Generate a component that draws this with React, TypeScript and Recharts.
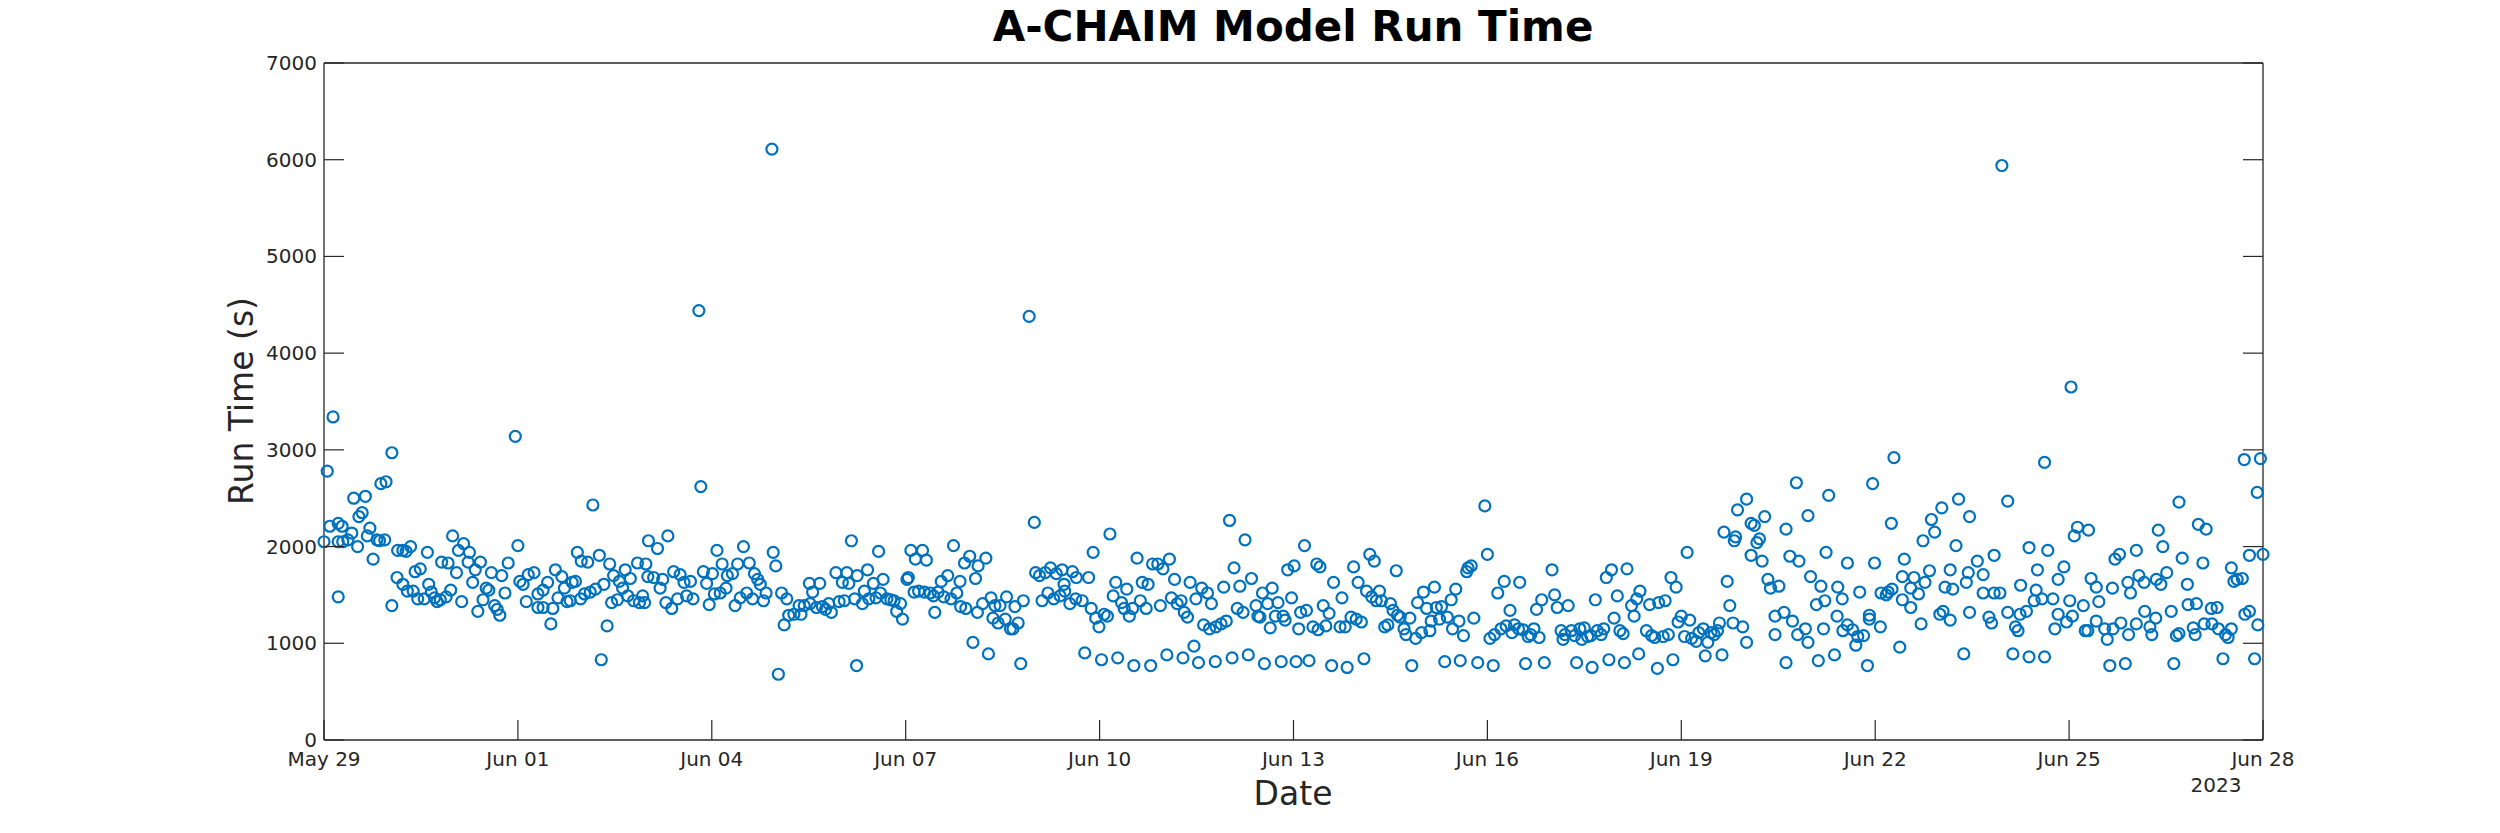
import { ScatterChart, Scatter, XAxis, YAxis } from 'recharts';

// Run times, as [days since May 29 00:00, seconds].
const runsMay29ToJun03: [number, number][] = [
  [0, 2050], [0.05, 2780], [0.14, 3340], [0.09, 2210], [0.22, 2240], [0.28, 2210], [0.22, 2050], [0.29, 2050],
  [0.37, 2070], [0.43, 2140], [0.52, 2000], [0.22, 1480], [0.46, 2500], [0.54, 2310], [0.59, 2350], [0.64, 2520],
  [0.71, 2190], [0.67, 2110], [0.76, 1870], [0.82, 2070], [0.86, 2060], [0.94, 2070], [0.88, 2650], [0.96, 2670],
  [1.05, 2970], [1.05, 1390], [1.14, 1960], [1.13, 1680], [1.22, 1960], [1.27, 1950], [1.34, 2000], [1.22, 1610],
  [1.29, 1540], [1.38, 1540], [1.41, 1740], [1.49, 1770], [1.45, 1460], [1.55, 1460], [1.6, 1940], [1.62, 1610],
  [1.66, 1530], [1.71, 1470], [1.75, 1430], [1.8, 1450], [1.89, 1480], [1.96, 1550], [1.82, 1840], [1.92, 1830],
  [1.99, 2110], [2.05, 1730], [2.08, 1960], [2.16, 2030], [2.25, 1940], [2.23, 1840], [2.34, 1760], [2.42, 1840],
  [2.3, 1630], [2.13, 1430], [2.46, 1450], [2.38, 1330], [2.51, 1570], [2.55, 1550], [2.59, 1730], [2.64, 1390],
  [2.68, 1350], [2.72, 1290], [2.75, 1700], [2.8, 1520], [2.85, 1830], [2.96, 3140], [3.0, 2010], [3.03, 1640],
  [3.08, 1610], [3.13, 1430], [3.16, 1710], [3.25, 1730], [3.31, 1510], [3.31, 1370], [3.39, 1370], [3.39, 1550],
  [3.46, 1630], [3.51, 1200], [3.54, 1360], [3.58, 1760], [3.62, 1470], [3.68, 1690], [3.72, 1570], [3.76, 1430],
  [3.81, 1440], [3.84, 1630], [3.89, 1640], [3.92, 1940], [3.98, 1850], [3.97, 1460], [4.03, 1510], [4.08, 1840],
  [4.12, 1530], [4.2, 1560], [4.16, 2430], [4.26, 1910], [4.33, 1610], [4.38, 1180], [4.29, 830], [4.42, 1820],
  [4.45, 1420], [4.48, 1700], [4.54, 1450], [4.57, 1640], [4.62, 1570], [4.66, 1760], [4.74, 1670], [4.7, 1490],
  [4.79, 1440], [4.85, 1830], [4.88, 1420], [4.93, 1490], [4.98, 1820], [5.02, 2060], [5.01, 1690], [4.96, 1420],
];

const runsJun03ToJun08: [number, number][] = [
  [5.16, 1980], [5.32, 2110], [5.1, 1680], [5.2, 1570], [5.24, 1660], [5.29, 1420], [5.38, 1360], [5.41, 1740],
  [5.51, 1710], [5.47, 1460], [5.57, 1630], [5.61, 1490], [5.67, 1640], [5.71, 1460], [5.83, 2620], [5.8, 4440],
  [5.87, 1740], [5.92, 1620], [5.96, 1400], [6.01, 1720], [6.04, 1510], [6.08, 1960], [6.13, 1520], [6.16, 1820],
  [6.22, 1570], [6.24, 1700], [6.32, 1720], [6.36, 1390], [6.4, 1820], [6.49, 2000], [6.44, 1470], [6.54, 1520],
  [6.58, 1830], [6.63, 1460], [6.66, 1720], [6.71, 1660], [6.75, 1610], [6.8, 1440], [6.84, 1520], [6.93, 6110],
  [6.95, 1940], [6.99, 1800], [7.08, 1520], [7.16, 1460], [7.12, 1190], [7.03, 680], [7.19, 1290], [7.27, 1300],
  [7.35, 1390], [7.38, 1300], [7.43, 1390], [7.51, 1620], [7.56, 1530], [7.52, 1410], [7.62, 1370], [7.67, 1620],
  [7.71, 1380], [7.76, 1350], [7.81, 1410], [7.85, 1320], [7.92, 1730], [7.97, 1430], [8.02, 1630], [8.09, 1730],
  [8.05, 1440], [8.12, 1620], [8.16, 2060], [8.25, 1700], [8.21, 1460], [8.24, 770], [8.33, 1410], [8.36, 1540],
  [8.41, 1760], [8.43, 1460], [8.5, 1620], [8.54, 1470], [8.58, 1950], [8.65, 1660], [8.61, 1520], [8.71, 1460],
  [8.77, 1450], [8.82, 1440], [8.86, 1330], [8.92, 1410], [8.95, 1250], [9.02, 1660], [9.04, 1680], [9.08, 1960],
  [9.13, 1530], [9.15, 1870], [9.2, 1540], [9.26, 1960], [9.32, 1860], [9.29, 1530], [9.38, 1520], [9.43, 1490],
  [9.45, 1320], [9.5, 1530], [9.55, 1640], [9.59, 1480], [9.65, 1700], [9.7, 1460], [9.74, 2010], [9.79, 1520],
  [9.84, 1640], [9.85, 1380], [9.93, 1360], [9.91, 1830], [9.99, 1900], [10.08, 1670], [10.11, 1320], [10.04, 1010],
  [10.12, 1800],
];

const runsJun08ToJun13: [number, number][] = [
  [10.24, 1880], [10.19, 1410], [10.32, 1470], [10.38, 1390], [10.46, 1390], [10.56, 1480], [10.69, 1380], [10.82, 1440],
  [10.35, 1260], [10.43, 1210], [10.54, 1250], [10.62, 1150], [10.66, 1150], [10.74, 1210], [10.28, 890], [10.78, 790],
  [10.91, 4380], [10.99, 2250], [11.01, 1730], [11.07, 1700], [11.16, 1730], [11.24, 1780], [11.33, 1720], [11.42, 1760],
  [11.45, 1610], [11.58, 1740], [11.64, 1680], [11.83, 1680], [11.11, 1440], [11.2, 1520], [11.29, 1460], [11.39, 1490],
  [11.46, 1540], [11.54, 1410], [11.63, 1460], [11.73, 1440], [11.77, 900], [11.9, 1940], [11.87, 1360], [11.94, 1260],
  [11.99, 1170], [12.07, 1300], [12.12, 1280], [12.03, 830], [12.16, 2130], [12.21, 1490], [12.25, 1630], [12.34, 1420],
  [12.38, 1360], [12.42, 1560], [12.46, 1280], [12.51, 1360], [12.28, 850], [12.58, 1880], [12.63, 1440], [12.66, 1630],
  [12.72, 1360], [12.75, 1610], [12.53, 770], [12.79, 770], [12.82, 1820], [12.9, 1820], [12.94, 1390], [12.98, 1770],
  [13.08, 1870], [13.04, 880], [13.11, 1470], [13.16, 1660], [13.2, 1410], [13.26, 1440], [13.31, 1320], [13.36, 1270],
  [13.29, 850], [13.4, 1630], [13.46, 970], [13.49, 1460], [13.58, 1570], [13.67, 1520], [13.73, 1410], [13.53, 800],
  [13.61, 1190], [13.7, 1150], [13.8, 1170], [13.88, 1200], [13.96, 1230], [13.79, 810], [13.92, 1580], [14.01, 2270],
  [14.05, 850], [14.08, 1780], [14.17, 1590], [14.13, 1360], [14.22, 1320], [14.25, 2070], [14.35, 1670], [14.3, 880],
  [14.42, 1390], [14.45, 1280], [14.48, 1270], [14.52, 1520], [14.55, 790], [14.6, 1410], [14.64, 1160], [14.67, 1570],
  [14.72, 1280], [14.76, 1420], [14.84, 1280], [14.87, 1240], [14.81, 810], [14.91, 1760], [15.01, 1800], [14.97, 1470],
  [15.04, 810], [15.08, 1150], [15.11, 1320], [15.17, 2010], [15.2, 1340], [15.24, 820],
];

const runsJun13ToJun18: [number, number][] = [
  [15.3, 1170], [15.38, 1140], [15.36, 1820], [15.41, 1790], [15.46, 1390], [15.5, 1180], [15.59, 770], [15.55, 1310],
  [15.62, 1630], [15.72, 1170], [15.75, 1470], [15.8, 1170], [15.83, 750], [15.89, 1270], [15.93, 1790], [15.97, 1250],
  [16.0, 1630], [16.05, 1220], [16.09, 840], [16.13, 1540], [16.18, 1920], [16.25, 1850], [16.21, 1480], [16.28, 1440],
  [16.33, 1540], [16.36, 1440], [16.41, 1170], [16.46, 1190], [16.5, 1410], [16.54, 1340], [16.59, 1750], [16.61, 1290],
  [16.65, 1270], [16.71, 1150], [16.74, 1090], [16.8, 1260], [16.83, 770], [16.89, 1050], [16.92, 1420], [16.98, 1110],
  [17.01, 1530], [17.06, 1360], [17.11, 1130], [17.13, 1230], [17.18, 1580], [17.21, 1370], [17.26, 1250], [17.29, 1380],
  [17.34, 810], [17.38, 1270], [17.44, 1450], [17.46, 1150], [17.51, 1560], [17.56, 1230], [17.58, 820], [17.63, 1080],
  [17.68, 1740], [17.7, 1780], [17.75, 1800], [17.79, 1260], [17.85, 800], [17.96, 2420], [18.0, 1920], [18.04, 1050],
  [18.09, 770], [18.11, 1090], [18.16, 1520], [18.21, 1150], [18.26, 1640], [18.29, 1180], [18.35, 1340], [18.38, 1110],
  [18.42, 1190], [18.5, 1630], [18.48, 1150], [18.55, 1140], [18.59, 790], [18.63, 1070], [18.67, 1090], [18.72, 1150],
  [18.76, 1350], [18.8, 1060], [18.84, 1450], [18.88, 800], [19.0, 1760], [19.04, 1500], [19.08, 1370], [19.14, 1130],
  [19.17, 1040], [19.2, 1090], [19.25, 1390], [19.3, 1130], [19.35, 1080], [19.38, 800], [19.43, 1150], [19.46, 1040],
  [19.5, 1160], [19.55, 1070], [19.6, 1080], [19.62, 750], [19.67, 1450], [19.7, 1130], [19.76, 1090], [19.8, 1150],
  [19.84, 1680], [19.88, 830], [19.92, 1760], [19.96, 1260], [20.01, 1490], [20.05, 1130], [20.1, 1100], [20.12, 800],
  [20.16, 1770], [20.23, 1390], [20.27, 1280], [20.31, 1460], [20.34, 890], [20.36, 1540],
];

const runsJun18ToJun23: [number, number][] = [
  [20.51, 1400], [20.46, 1130], [20.54, 1080], [20.59, 1060], [20.63, 740], [20.65, 1420], [20.72, 1070], [20.75, 1440],
  [20.8, 1090], [20.84, 1680], [20.87, 830], [20.92, 1580], [20.95, 1220], [21.0, 1280], [21.05, 1070], [21.09, 1940],
  [21.13, 1240], [21.16, 1050], [21.23, 1020], [21.27, 1110], [21.34, 1150], [21.37, 870], [21.41, 1010], [21.46, 1110],
  [21.51, 1090], [21.56, 1130], [21.59, 1210], [21.63, 880], [21.66, 2150], [21.71, 1640], [21.75, 1390], [21.8, 1210],
  [21.84, 2100], [21.82, 2060], [21.87, 2380], [21.95, 1170], [22.01, 2490], [22.01, 1010], [22.08, 2240], [22.08, 1910],
  [22.13, 2220], [22.17, 2040], [22.21, 2080], [22.25, 1850], [22.29, 2310], [22.34, 1660], [22.38, 1570], [22.45, 1280],
  [22.45, 1090], [22.51, 1590], [22.59, 1320], [22.62, 2180], [22.62, 800], [22.68, 1900], [22.72, 1230], [22.78, 2660],
  [22.8, 1090], [22.82, 1850], [22.92, 1150], [22.96, 2320], [22.96, 1010], [23.0, 1690], [23.09, 1400], [23.12, 820],
  [23.16, 1590], [23.2, 1150], [23.22, 1440], [23.24, 1940], [23.28, 2530], [23.37, 880], [23.41, 1280], [23.42, 1580],
  [23.49, 1460], [23.5, 1130], [23.57, 1190], [23.57, 1830], [23.65, 1140], [23.7, 980], [23.73, 1070], [23.76, 1530],
  [23.82, 1080], [23.88, 770], [23.91, 1290], [23.91, 1250], [23.96, 2650], [23.99, 1830], [24.08, 1170], [24.09, 1520],
  [24.17, 1500], [24.2, 1530], [24.25, 2240], [24.26, 1560], [24.29, 2920], [24.38, 960], [24.42, 1690], [24.42, 1450],
  [24.45, 1870], [24.55, 1370], [24.55, 1570], [24.6, 1680], [24.67, 1510], [24.71, 1200], [24.74, 2060], [24.77, 1630],
  [24.84, 1750], [24.87, 2280], [24.92, 2150], [25.0, 1300], [25.03, 2400], [25.05, 1330], [25.08, 1580], [25.16, 1760],
  [25.16, 1240], [25.2, 1560], [25.25, 2010], [25.29, 2490], [25.37, 890], [25.41, 1630], [25.44, 1730], [25.46, 2310],
  [25.46, 1320],
];

const runsJun23ToJun28: [number, number][] = [
  [25.58, 1850], [25.67, 1710], [25.67, 1520], [25.76, 1270], [25.8, 1210], [25.84, 1910], [25.84, 1520], [25.93, 1520],
  [25.96, 5940], [26.05, 2470], [26.05, 1320], [26.13, 890], [26.17, 1170], [26.21, 1130], [26.24, 1300], [26.25, 1600],
  [26.34, 1330], [26.38, 1990], [26.38, 860], [26.46, 1440], [26.49, 1550], [26.51, 1760], [26.58, 1460], [26.62, 2870],
  [26.62, 860], [26.67, 1960], [26.75, 1460], [26.78, 1150], [26.83, 1660], [26.83, 1300], [26.92, 1790], [26.96, 1220],
  [27.01, 1440], [27.03, 3650], [27.05, 1280], [27.08, 2110], [27.13, 2200], [27.22, 1390], [27.25, 1130], [27.29, 1130],
  [27.3, 2170], [27.34, 1670], [27.42, 1580], [27.42, 1230], [27.46, 1430], [27.55, 1150], [27.59, 1040], [27.63, 770],
  [27.67, 1570], [27.68, 1150], [27.71, 1870], [27.78, 1920], [27.8, 1210], [27.87, 790], [27.91, 1630], [27.92, 1090],
  [27.95, 1520], [28.04, 1960], [28.04, 1200], [28.08, 1700], [28.16, 1630], [28.17, 1330], [28.25, 1170], [28.28, 1090],
  [28.34, 1260], [28.35, 1660], [28.38, 2170], [28.42, 1610], [28.45, 2000], [28.51, 1730], [28.58, 1330], [28.62, 790],
  [28.66, 1080], [28.7, 1100], [28.7, 2460], [28.75, 1880], [28.83, 1610], [28.84, 1400], [28.92, 1160], [28.95, 1090],
  [28.97, 1410], [29.0, 2230], [29.07, 1830], [29.09, 1200], [29.12, 2180], [29.2, 1360], [29.21, 1200], [29.29, 1370],
  [29.31, 1150], [29.38, 840], [29.42, 1090], [29.46, 1060], [29.51, 1150], [29.51, 1780], [29.55, 1640], [29.6, 1660],
  [29.68, 1670], [29.72, 1300], [29.79, 1330], [29.71, 2900], [29.79, 1910], [29.87, 840], [29.91, 2560], [29.92, 1190],
  [29.96, 2910], [30.0, 1920],
];

const dayTicks = [0, 3, 6, 9, 12, 15, 18, 21, 24, 27, 30];
const dayLabels = ['May 29', 'Jun 01', 'Jun 04', 'Jun 07', 'Jun 10', 'Jun 13', 'Jun 16', 'Jun 19', 'Jun 22', 'Jun 25', 'Jun 28'];
const secondTicks = [0, 1000, 2000, 3000, 4000, 5000, 6000, 7000];

const FONT = '"DejaVu Sans", sans-serif';
const AXIS = '#262626';
const MARKER = '#0072BD';
const TICK_LEN = 20;

const runs = [
  ...runsMay29ToJun03,
  ...runsJun03ToJun08,
  ...runsJun08ToJun13,
  ...runsJun13ToJun18,
  ...runsJun18ToJun23,
  ...runsJun23ToJun28,
].map(([day, seconds]) => ({ day, seconds }));

function BottomTick({ x, y, payload }: any) {
  const i = dayTicks.indexOf(payload.value);
  return (
    <g>
      <line x1={x} x2={x} y1={y} y2={y - TICK_LEN} stroke={AXIS} strokeWidth={1.2} />
      <text x={x} y={y + 19} textAnchor="middle" dominantBaseline="central" fontSize={20} fontFamily={FONT} fill={AXIS}>
        {dayLabels[i]}
      </text>
      {i === dayLabels.length - 1 && (
        <text x={x - 47} y={y + 45} textAnchor="middle" dominantBaseline="central" fontSize={20} fontFamily={FONT} fill={AXIS}>
          2023
        </text>
      )}
    </g>
  );
}

function LeftTick({ x, y, payload }: any) {
  return (
    <g>
      <line x1={x} x2={x + TICK_LEN} y1={y} y2={y} stroke={AXIS} strokeWidth={1.2} />
      <text x={x - 7} y={y} textAnchor="end" dominantBaseline="central" fontSize={20} fontFamily={FONT} fill={AXIS}>
        {payload.value}
      </text>
    </g>
  );
}

const TopTick = ({ x, y }: any) => <line x1={x} x2={x} y1={y} y2={y + TICK_LEN} stroke={AXIS} strokeWidth={1.2} />;
const RightTick = ({ x, y }: any) => <line x1={x} x2={x - TICK_LEN} y1={y} y2={y} stroke={AXIS} strokeWidth={1.2} />;

export default function App() {
  return (
    <div style={{ position: 'absolute', left: 0, top: 0, width: 2500, height: 833, background: '#fff', fontFamily: FONT }}>
      <div style={{ position: 'absolute', left: 693, width: 1200, top: 6, fontSize: 42, lineHeight: '42px', fontWeight: 'bold', textAlign: 'center', color: '#000' }}>
        A-CHAIM Model Run Time
      </div>
      <div style={{ position: 'absolute', left: 1093, width: 400, top: 777, fontSize: 33, lineHeight: '33px', textAlign: 'center', color: AXIS }}>
        Date
      </div>
      <div
        style={{
          position: 'absolute',
          left: 241,
          top: 401,
          fontSize: 33,
          lineHeight: '33px',
          whiteSpace: 'nowrap',
          color: AXIS,
          transform: 'translate(-50%, -50%) rotate(-90deg)',
        }}
      >
        Run Time (s)
      </div>
      <ScatterChart width={2500} height={833} margin={{ top: 43, right: 217, bottom: 63, left: 264 }}>
        <XAxis
          type="number"
          dataKey="day"
          domain={[0, 30]}
          ticks={dayTicks}
          interval={0}
          height={30}
          tickSize={0}
          tickMargin={0}
          tickLine={false}
          axisLine={{ stroke: AXIS, strokeWidth: 1.3 }}
          tick={(p: any) => <BottomTick {...p} />}
        />
        <XAxis
          xAxisId="top"
          orientation="top"
          type="number"
          domain={[0, 30]}
          allowDataOverflow
          ticks={dayTicks}
          interval={0}
          height={20}
          tickSize={0}
          tickMargin={0}
          tickLine={false}
          axisLine={{ stroke: AXIS, strokeWidth: 1.3 }}
          tick={(p: any) => <TopTick {...p} />}
        />
        <YAxis
          type="number"
          dataKey="seconds"
          domain={[0, 7000]}
          ticks={secondTicks}
          interval={0}
          width={60}
          tickSize={0}
          tickMargin={0}
          tickLine={false}
          axisLine={{ stroke: AXIS, strokeWidth: 1.3 }}
          tick={(p: any) => <LeftTick {...p} />}
        />
        <YAxis
          yAxisId="right"
          orientation="right"
          type="number"
          domain={[0, 7000]}
          allowDataOverflow
          ticks={secondTicks}
          interval={0}
          width={20}
          tickSize={0}
          tickMargin={0}
          tickLine={false}
          axisLine={{ stroke: AXIS, strokeWidth: 1.3 }}
          tick={(p: any) => <RightTick {...p} />}
        />
        <Scatter
          data={runs}
          isAnimationActive={false}
          shape={(p: any) => <circle cx={p.cx} cy={p.cy} r={5.5} fill="none" stroke={MARKER} strokeWidth={2.2} />}
        />
      </ScatterChart>
    </div>
  );
}
